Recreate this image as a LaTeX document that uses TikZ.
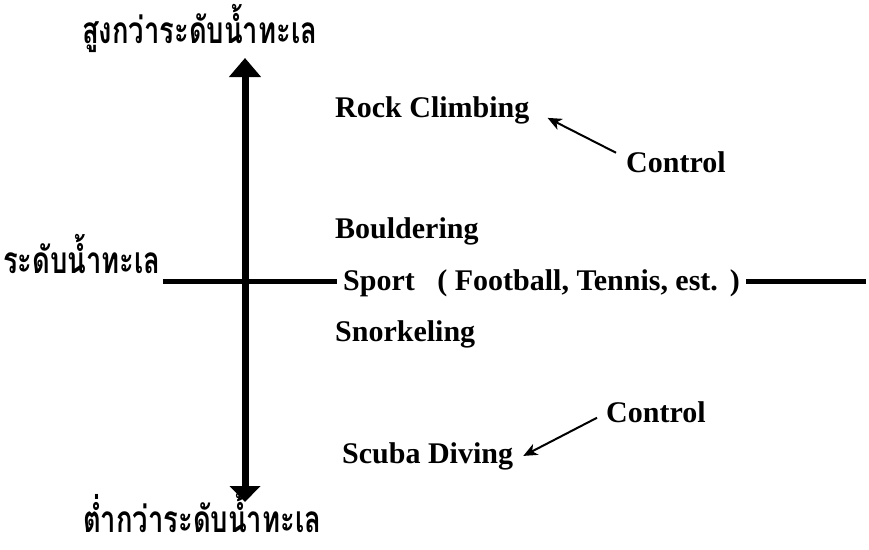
\documentclass[tikz,border=0pt]{standalone}
\usepackage{fontspec}
\usepackage{graphicx}
\setmainfont{Liberation Serif}
\newfontfamily\thaifont[Script=Thai]{Loma}
\usetikzlibrary{arrows.meta,positioning}

\newcommand{\thaitext}[1]{\scalebox{0.74}[1]{#1}}

\begin{document}
\begin{tikzpicture}[
    x=1pt, y=-1pt,
    level/.style={
        inner sep=0pt,
        anchor=base west,
        font=\thaifont\bfseries\fontsize{37}{39}\selectfont
    },
    sport/.style={
        inner sep=0pt,
        anchor=base west,
        font=\bfseries\fontsize{30}{32}\selectfont
    },
    bigarr/.style={{Triangle[length=16pt,width=30pt]}-{Triangle[length=19pt,width=31pt]}, line width=7pt},
    thinarr/.style={-{Stealth[length=14pt,width=12pt,inset=4pt]}, line width=2pt},
    line/.style={line width=5pt},
]
\useasboundingbox (0,0) rectangle (869,549);

% nodes
\node[level] (above) at (82,43) {\thaitext{สูงกว่าระดับน้ำทะเล}};
\node[level] (sea) at (3,273) {\thaitext{ระดับน้ำทะเล}};
\node[level] (below) at (83,532) {\thaitext{ต่ำกว่าระดับน้ำทะเล}};

\coordinate (up) at (245,58);
\coordinate (down) at (245,502);
\coordinate (rightend) at (866,281);

\node[sport] (rock) at (335,117) {Rock Climbing};
\node[sport] (ctrlup) at (626,172) {Control};
\node[sport] (boulder) at (335,238) {Bouldering};
\node[sport, inner xsep=6pt] (sport) at (337,290)
    {Sport\ \ \ ( Football, Tennis, est.\hspace{12pt})};
\node[sport] (snorkel) at (335,341) {Snorkeling};
\node[sport] (ctrldown) at (606,422) {Control};
\node[sport] (scuba) at (342,463) {Scuba Diving};

% arrows
\draw[bigarr] (down) -- (up);

\draw[line] ([xshift=2pt]sea.east |- rightend) -- (sport.west |- rightend);
\draw[line] (sport.east |- rightend) -- (rightend);

\draw[thinarr] ([xshift=-10pt,yshift=9pt]ctrlup.west) -- ([xshift=18pt,yshift=-8pt]rock.east);
\draw[thinarr] ([xshift=-9pt,yshift=-6pt]ctrldown.west) -- ([xshift=10pt]scuba.east);

\end{tikzpicture}
\end{document}
